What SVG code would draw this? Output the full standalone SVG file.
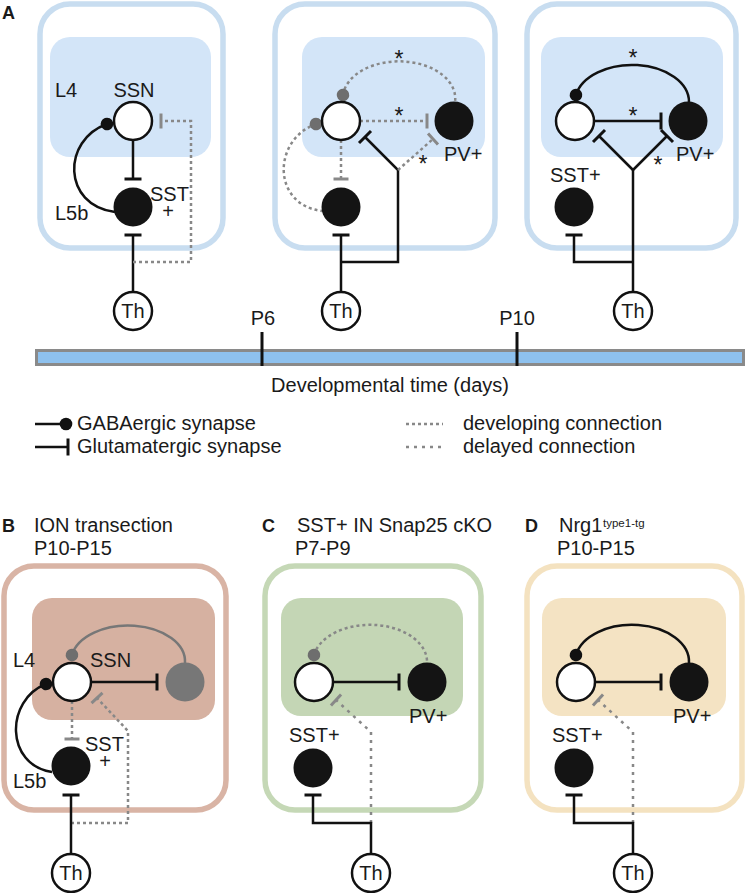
<svg xmlns="http://www.w3.org/2000/svg" width="747" height="893" viewBox="0 0 747 893">
<style>
text{font-family:"Liberation Sans",Arial,sans-serif;fill:#1a1a1a;font-size:20px}
.lt{font-weight:bold;font-size:18px}
.sup{font-size:11.5px}
.ast{font-size:23px;text-anchor:middle}
.mid{text-anchor:middle}
.box{fill:none;stroke-width:5.5}
.wc{fill:#fff;stroke:#111;stroke-width:2.5}
.bc{fill:#141414}
.gc{fill:#777}
.ln{fill:none;stroke:#111;stroke-width:2.5}
.gl{fill:none;stroke:#777;stroke-width:2.5}
.dev{fill:none;stroke:#888;stroke-width:2.5;stroke-dasharray:3 3}
.del{fill:none;stroke:#888;stroke-width:2.5;stroke-dasharray:3 5}
.tb{marker-end:url(#tb)}
.tg{marker-end:url(#tg)}
.db{marker-start:url(#db)}
.dg{marker-start:url(#dg)}
</style>
<defs>
<marker id="tb" markerUnits="userSpaceOnUse" viewBox="-3 -10 6 20" refX="0" refY="0" markerWidth="6" markerHeight="20" orient="auto" overflow="visible"><line x1="0" y1="-8.5" x2="0" y2="8.5" stroke="#111" stroke-width="3"/></marker>
<marker id="tg" markerUnits="userSpaceOnUse" viewBox="-3 -10 6 20" refX="0" refY="0" markerWidth="6" markerHeight="20" orient="auto" overflow="visible"><line x1="0" y1="-7.5" x2="0" y2="7.5" stroke="#888" stroke-width="3"/></marker>
<marker id="db" markerUnits="userSpaceOnUse" viewBox="-7 -7 14 14" refX="0" refY="0" markerWidth="14" markerHeight="14" orient="auto" overflow="visible"><circle r="6.3" fill="#111"/></marker>
<marker id="dg" markerUnits="userSpaceOnUse" viewBox="-7 -7 14 14" refX="0" refY="0" markerWidth="14" markerHeight="14" orient="auto" overflow="visible"><circle r="6.3" fill="#6e6e6e"/></marker>
</defs>

<!-- Panel A -->
<text class="lt" x="2" y="19">A</text>

<g id="boxA1">
<rect class="box" x="40" y="4" width="183" height="244" rx="30" stroke="#c8ddf0"/>
<rect x="50" y="37" width="161" height="120" rx="20" fill="#d3e5f8"/>
<text x="55" y="97">L4</text>
<text x="55" y="220">L5b</text>
</g>
<g id="boxA2">
<rect class="box" x="275" y="4" width="220" height="244" rx="30" stroke="#c8ddf0"/>
<rect x="302" y="37" width="183" height="120" rx="20" fill="#d3e5f8"/>
</g>
<g id="boxA3">
<rect class="box" x="527" y="4" width="209" height="244" rx="30" stroke="#c8ddf0"/>
<rect x="541" y="37" width="182" height="120" rx="20" fill="#d3e5f8"/>
</g>

<g id="timeline">
<rect x="36.5" y="350.5" width="707" height="14" fill="#8ec1ee" stroke="#8a8a8a" stroke-width="3"/>
<line x1="262" y1="332" x2="262" y2="366" stroke="#111" stroke-width="3"/>
<line x1="517" y1="332" x2="517" y2="366" stroke="#111" stroke-width="3"/>
<text class="mid" x="263" y="325">P6</text>
<text class="mid" x="517" y="325">P10</text>
<text class="mid" x="390" y="392">Developmental time (days)</text>
</g>

<g id="legend">
<path class="ln" d="M35,424 L66,424" marker-end="url(#db)"/>
<path class="ln tb" d="M35,447 L68,447"/>
<path class="dev" d="M406,424 L443,424"/>
<path class="del" d="M406,447 L443,447"/>
<text x="77" y="430">GABAergic synapse</text>
<text x="77" y="453">Glutamatergic synapse</text>
<text x="463" y="430">developing connection</text>
<text x="463" y="453">delayed connection</text>
</g>

<!-- Panel B/C/D frames -->
<g id="boxB">
<text class="lt" x="2" y="532">B</text>
<text x="34" y="532">ION transection</text>
<text x="34" y="555">P10-P15</text>
<rect class="box" x="4" y="566" width="222" height="244" rx="30" stroke="#d9b4a5"/>
<rect x="32" y="598" width="183" height="122" rx="20" fill="#d6b1a1"/>
<text x="13" y="667">L4</text>
<text x="13" y="788">L5b</text>
</g>
<g id="boxC">
<text class="lt" x="262" y="532">C</text>
<text x="297" y="532">SST+ IN Snap25 cKO</text>
<text x="295" y="555">P7-P9</text>
<rect class="box" x="265" y="566" width="216" height="244" rx="30" stroke="#c5d8b6"/>
<rect x="281" y="598" width="182" height="118" rx="20" fill="#c4d6b5"/>
</g>
<g id="boxD">
<text class="lt" x="525" y="532">D</text>
<text x="559" y="532">Nrg1<tspan class="sup" x="603" y="527">type1-tg</tspan></text>
<text x="557" y="555">P10-P15</text>
<rect class="box" x="527" y="566" width="215" height="244" rx="30" stroke="#f4e2c0"/>
<rect x="542" y="598" width="184" height="118" rx="20" fill="#f4e3c3"/>
</g>

<!-- Connectors -->
<g id="connectors">
<!-- A1 -->
<path class="ln db" d="M107,124 C62,140 62,205 115,212"/>
<path class="ln tb" d="M133,140 L133,179"/>
<path class="ln tb" d="M133,292 L133,235"/>
<path class="dev tg" d="M133,262 L191,262 L191,121 L161,121"/>
<!-- A2 -->
<path class="dev dg" d="M343,95 A56 37 0 0 1 455,102"/>
<path class="dev dg" d="M316,124 C272,140 272,205 322,211"/>
<path class="dev tg" d="M341,140 L341,179"/>
<path class="dev tg" d="M360,121 L427,121"/>
<path class="ln tb" d="M341,292 L341,235"/>
<path class="ln tb" d="M341,262 L398,262 L398,170 L365,137"/>
<path class="dev tg" d="M398,170 L433,139"/>
<!-- A3 -->
<path class="ln db" d="M576,95 A57 37 0 0 1 689,102"/>
<path class="ln tb" d="M594,121 L661,121"/>
<path class="ln" d="M633,292 L633,170"/>
<path class="ln tb" d="M633,170 L599,136"/>
<path class="ln tb" d="M633,170 L667,136"/>
<path class="ln tb" d="M633,262 L574,262 L574,235"/>
<!-- B -->
<path class="gl dg" d="M72,655 A57 36 0 0 1 185,663"/>
<path class="ln db" d="M46,684 C5,700 5,765 52,772"/>
<path class="ln tb" d="M91,682 L157,682"/>
<path class="dev tg" d="M72,701 L72,739"/>
<path class="dev tg" d="M71,823 L128,823 L128,731 L97,698"/>
<path class="ln tb" d="M71,854 L71,795"/>
<!-- C -->
<path class="dev dg" d="M314,655 A57 37 0 0 1 427,663"/>
<path class="ln tb" d="M333,682 L399,682"/>
<path class="del tg" d="M371,823 L371,732 L336,700"/>
<path class="ln tb" d="M371,854 L371,823 L313,823 L313,795"/>
<!-- D -->
<path class="ln db" d="M576,655 A57 37 0 0 1 689,663"/>
<path class="ln tb" d="M595,682 L661,682"/>
<path class="del tg" d="M633,823 L633,732 L598,700"/>
<path class="ln tb" d="M633,854 L633,823 L574,823 L574,795"/>
</g>

<!-- asterisks -->
<g id="asterisks">
<text class="ast" x="399" y="67">*</text>
<text class="ast" x="399" y="124">*</text>
<text class="ast" x="423" y="172">*</text>
<text class="ast" x="633" y="66">*</text>
<text class="ast" x="633" y="124">*</text>
<text class="ast" x="658" y="173">*</text>
</g>

<!-- Nodes A1 -->
<g id="A1-SSN"><circle class="wc" cx="133" cy="121" r="19"/><text class="mid" x="134" y="97">SSN</text></g>
<g id="A1-SST"><circle class="bc" cx="133" cy="207" r="19.5"/><text x="150" y="201">SST<tspan class="mid" x="168" y="218">+</tspan></text></g>
<g id="A1-Th"><circle class="wc" cx="133" cy="311" r="19"/><text class="mid" x="133" y="318">Th</text></g>
<!-- A2 -->
<g id="A2-SSN"><circle class="wc" cx="341" cy="121" r="19"/></g>
<g id="A2-PV"><circle class="bc" cx="454" cy="121" r="19.5"/><text x="444" y="161">PV+</text></g>
<g id="A2-SST"><circle class="bc" cx="341" cy="207" r="19.5"/></g>
<g id="A2-Th"><circle class="wc" cx="341" cy="311" r="19"/><text class="mid" x="341" y="318">Th</text></g>
<!-- A3 -->
<g id="A3-SSN"><circle class="wc" cx="575" cy="121" r="19"/></g>
<g id="A3-PV"><circle class="bc" cx="688" cy="121" r="19.5"/><text x="676" y="161">PV+</text></g>
<g id="A3-SST"><circle class="bc" cx="574" cy="207" r="19.5"/><text x="550" y="182">SST+</text></g>
<g id="A3-Th"><circle class="wc" cx="633" cy="311" r="19"/><text class="mid" x="633" y="318">Th</text></g>
<!-- B -->
<g id="B-SSN"><circle class="wc" cx="72" cy="682" r="19"/><text x="90" y="667">SSN</text></g>
<g id="B-PV"><circle class="gc" cx="185" cy="682" r="19.5"/></g>
<g id="B-SST"><circle class="bc" cx="71" cy="766" r="19.5"/><text x="85" y="751">SST<tspan class="mid" x="105" y="768">+</tspan></text></g>
<g id="B-Th"><circle class="wc" cx="71" cy="873" r="19"/><text class="mid" x="71" y="880">Th</text></g>
<!-- C -->
<g id="C-SSN"><circle class="wc" cx="314" cy="682" r="19"/></g>
<g id="C-PV"><circle class="bc" cx="427" cy="682" r="19.5"/><text x="409" y="723">PV+</text></g>
<g id="C-SST"><circle class="bc" cx="313" cy="768" r="19.5"/><text x="289" y="742">SST+</text></g>
<g id="C-Th"><circle class="wc" cx="371" cy="873" r="19"/><text class="mid" x="371" y="880">Th</text></g>
<!-- D -->
<g id="D-SSN"><circle class="wc" cx="576" cy="682" r="19"/></g>
<g id="D-PV"><circle class="bc" cx="689" cy="682" r="19.5"/><text x="673" y="723">PV+</text></g>
<g id="D-SST"><circle class="bc" cx="574" cy="768" r="19.5"/><text x="552" y="742">SST+</text></g>
<g id="D-Th"><circle class="wc" cx="633" cy="873" r="19"/><text class="mid" x="633" y="880">Th</text></g>
</svg>
